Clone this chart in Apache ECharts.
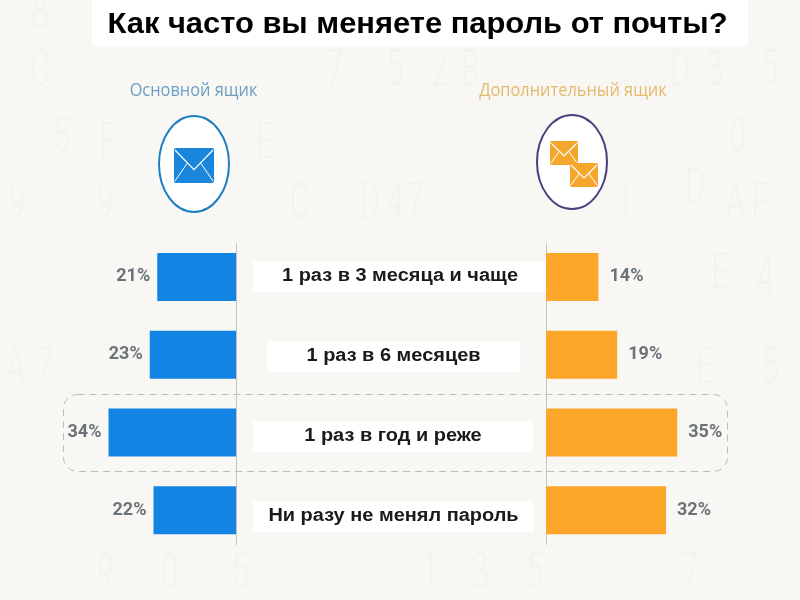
<!DOCTYPE html>
<html><head><meta charset="utf-8">
<style>html,body{margin:0;padding:0;background:#f8f7f4}#c{width:800px;height:600px}</style>
<script src="https://cdn.jsdelivr.net/npm/echarts@6/dist/echarts.min.js"></script></head>
<body><div id="c"></div>
<script>
const titleText = 'Как часто вы меняете пароль от почты?';
const seriesNames = ['Основной ящик', 'Дополнительный ящик'];
const categories = ['1 раз в 3 месяца и чаще', '1 раз в 6 месяцев', '1 раз в год и реже', 'Ни разу не менял пароль'];
const mainBox = [21, 23, 34, 22];
const extraBox = [14, 19, 35, 32];
const ghostGlyphs = '8 C 5 F 9 9 7 5 2 B D 3 5 E 0 C D 4 7 1 D A F E 4 A 7 E 5 9 0 5 1 3 5 7'.split(' ');

const chart = echarts.init(document.getElementById('c'), null, {renderer: 'canvas'});
const BLUE = '#1284e4', ORANGE = '#fda72a';

function envelope(x, y, w, h, fill) {
  return {type: 'group', x, y, silent: true, children: [
    {type: 'rect', shape: {x: 0, y: 0, width: w, height: h, r: 2}, style: {fill}},
    {type: 'polyline', shape: {points: [[1, 2], [w / 2, h * 0.62], [w - 1, 2]]}, style: {stroke: '#fff', lineWidth: 1.2, fill: null}},
    {type: 'line', shape: {x1: 1, y1: h - 2, x2: w * 0.34, y2: h * 0.42}, style: {stroke: '#fff', lineWidth: 1}},
    {type: 'line', shape: {x1: w - 1, y1: h - 2, x2: w * 0.66, y2: h * 0.42}, style: {stroke: '#fff', lineWidth: 1}}
  ]};
}
const ghostPos = [[40,15],[40,72],[62,140],[108,145],[17,205],[105,205],[335,72],[395,72],[440,72],[470,72],[680,72],[715,72],[770,72],[265,145],[738,140],[300,205],[370,205],[395,205],[415,205],[625,205],[695,190],[735,205],[760,205],[720,275],[765,280],[15,370],[45,370],[705,370],[770,370],[105,575],[170,575],[240,575],[430,575],[480,575],[535,575],[690,575]];
const ghosts = ghostGlyphs.map((g, i) => ({
  type: 'text', x: ghostPos[i][0], y: ghostPos[i][1], scaleX: 0.6, silent: true, z: -10,
  style: {text: g, fill: '#f3f2ef', font: '300 50px Roboto', textAlign: 'center', textVerticalAlign: 'middle'}
}));

const boxLeft = [253, 267, 253, 253];
const boxRight = [547, 520, 533, 534];
const textCenter = [400, 393.5, 393, 393.5];

const barLabel = (pos, dist) => ({show: true, position: pos, distance: dist, formatter: '{c}%',
  color: '#6b7278', fontFamily: 'Roboto', fontWeight: 'bold', fontSize: 18});

chart.setOption({
  backgroundColor: '#f8f7f4',
  animation: false,
  grid: [
    {left: 86, width: 150, top: 238, height: 311},
    {left: 546, width: 150, top: 238, height: 311},
    {left: 0, width: 800, top: 236.5, height: 320}
  ],
  xAxis: [
    {gridIndex: 0, type: 'value', min: 0, max: 40, inverse: true, show: false},
    {gridIndex: 1, type: 'value', min: 0, max: 40, show: false},
    {gridIndex: 2, type: 'value', min: 0, max: 800, show: false}
  ],
  yAxis: [
    {gridIndex: 0, type: 'category', inverse: true, data: categories, axisLine: {show: false}, axisTick: {show: false}, axisLabel: {show: false}},
    {gridIndex: 1, type: 'category', inverse: true, data: categories, axisLine: {show: false}, axisTick: {show: false}, axisLabel: {show: false}},
    {gridIndex: 2, type: 'category', inverse: true, data: categories, show: false}
  ],
  series: [
    {name: seriesNames[0], type: 'bar', xAxisIndex: 0, yAxisIndex: 0, data: mainBox, barWidth: 48, itemStyle: {color: BLUE}, label: barLabel('left', 7)},
    {name: seriesNames[1], type: 'bar', xAxisIndex: 1, yAxisIndex: 1, data: extraBox, barWidth: 48, itemStyle: {color: ORANGE}, label: barLabel('right', 11)},
    {type: 'custom', xAxisIndex: 2, yAxisIndex: 2, coordinateSystem: 'cartesian2d', silent: true, z: 1,
      data: categories.map((c, i) => [textCenter[i], c]),
      renderItem: (params, api) => {
        const i = params.dataIndex;
        const l = api.coord([boxLeft[i], i]), r = api.coord([boxRight[i], i]), t = api.coord([textCenter[i], i]);
        return {type: 'group', children: [
          {type: 'rect', shape: {x: l[0], y: l[1] - 15.5, width: r[0] - l[0], height: 31}, style: {fill: '#fff'}},
          {type: 'text', x: t[0], y: t[1], scaleX: 1.14,
           style: {text: categories[i], fill: '#1a1a1a', font: 'bold 17.5px "Liberation Sans"', textAlign: 'center', textVerticalAlign: 'middle'}}
        ]};
      }}
  ],
  graphic: [
    ...ghosts,
    {type: 'line', shape: {x1: 236.5, y1: 243, x2: 236.5, y2: 545}, style: {stroke: '#c4c4c2', lineWidth: 1}, silent: true},
    {type: 'line', shape: {x1: 546.5, y1: 243, x2: 546.5, y2: 545}, style: {stroke: '#c4c4c2', lineWidth: 1}, silent: true},
    {type: 'rect', shape: {x: 63.5, y: 394.5, width: 664, height: 77, r: 14}, silent: true, z: 5,
      style: {fill: null, stroke: '#bcbcba', lineWidth: 1, lineDash: [7, 5]}},
    {type: 'rect', shape: {x: 92, y: 0, width: 656, height: 46}, silent: true, style: {fill: '#fff'}},
    {type: 'text', x: 417.5, y: 25, scaleX: 1.065, silent: true,
     style: {text: titleText, fill: '#000', font: 'bold 29px "Liberation Sans"', textAlign: 'center', textVerticalAlign: 'middle'}},
    {type: 'text', x: 193.5, y: 91, scaleX: 0.91, silent: true, style: {text: seriesNames[0], fill: '#6d9fc6', font: '18px "Open Sans"', textAlign: 'center', textVerticalAlign: 'middle'}},
    {type: 'text', x: 573, y: 91, scaleX: 0.91, silent: true, style: {text: seriesNames[1], fill: '#e4b96c', font: '18px "Open Sans"', textAlign: 'center', textVerticalAlign: 'middle'}},
    {type: 'ellipse', shape: {cx: 194, cy: 164, rx: 35, ry: 48}, silent: true, style: {fill: '#fff', stroke: '#1d7fc4', lineWidth: 2}},
    {type: 'ellipse', shape: {cx: 572, cy: 162, rx: 35, ry: 47}, silent: true, style: {fill: '#fff', stroke: '#4b3f7d', lineWidth: 2}},
    envelope(174, 148, 40, 35, '#1a86dc'),
    envelope(550, 141, 28, 24, '#f4a62d'),
    envelope(570, 163, 28, 24, '#f4a62d')
  ]
});
</script></body></html>
